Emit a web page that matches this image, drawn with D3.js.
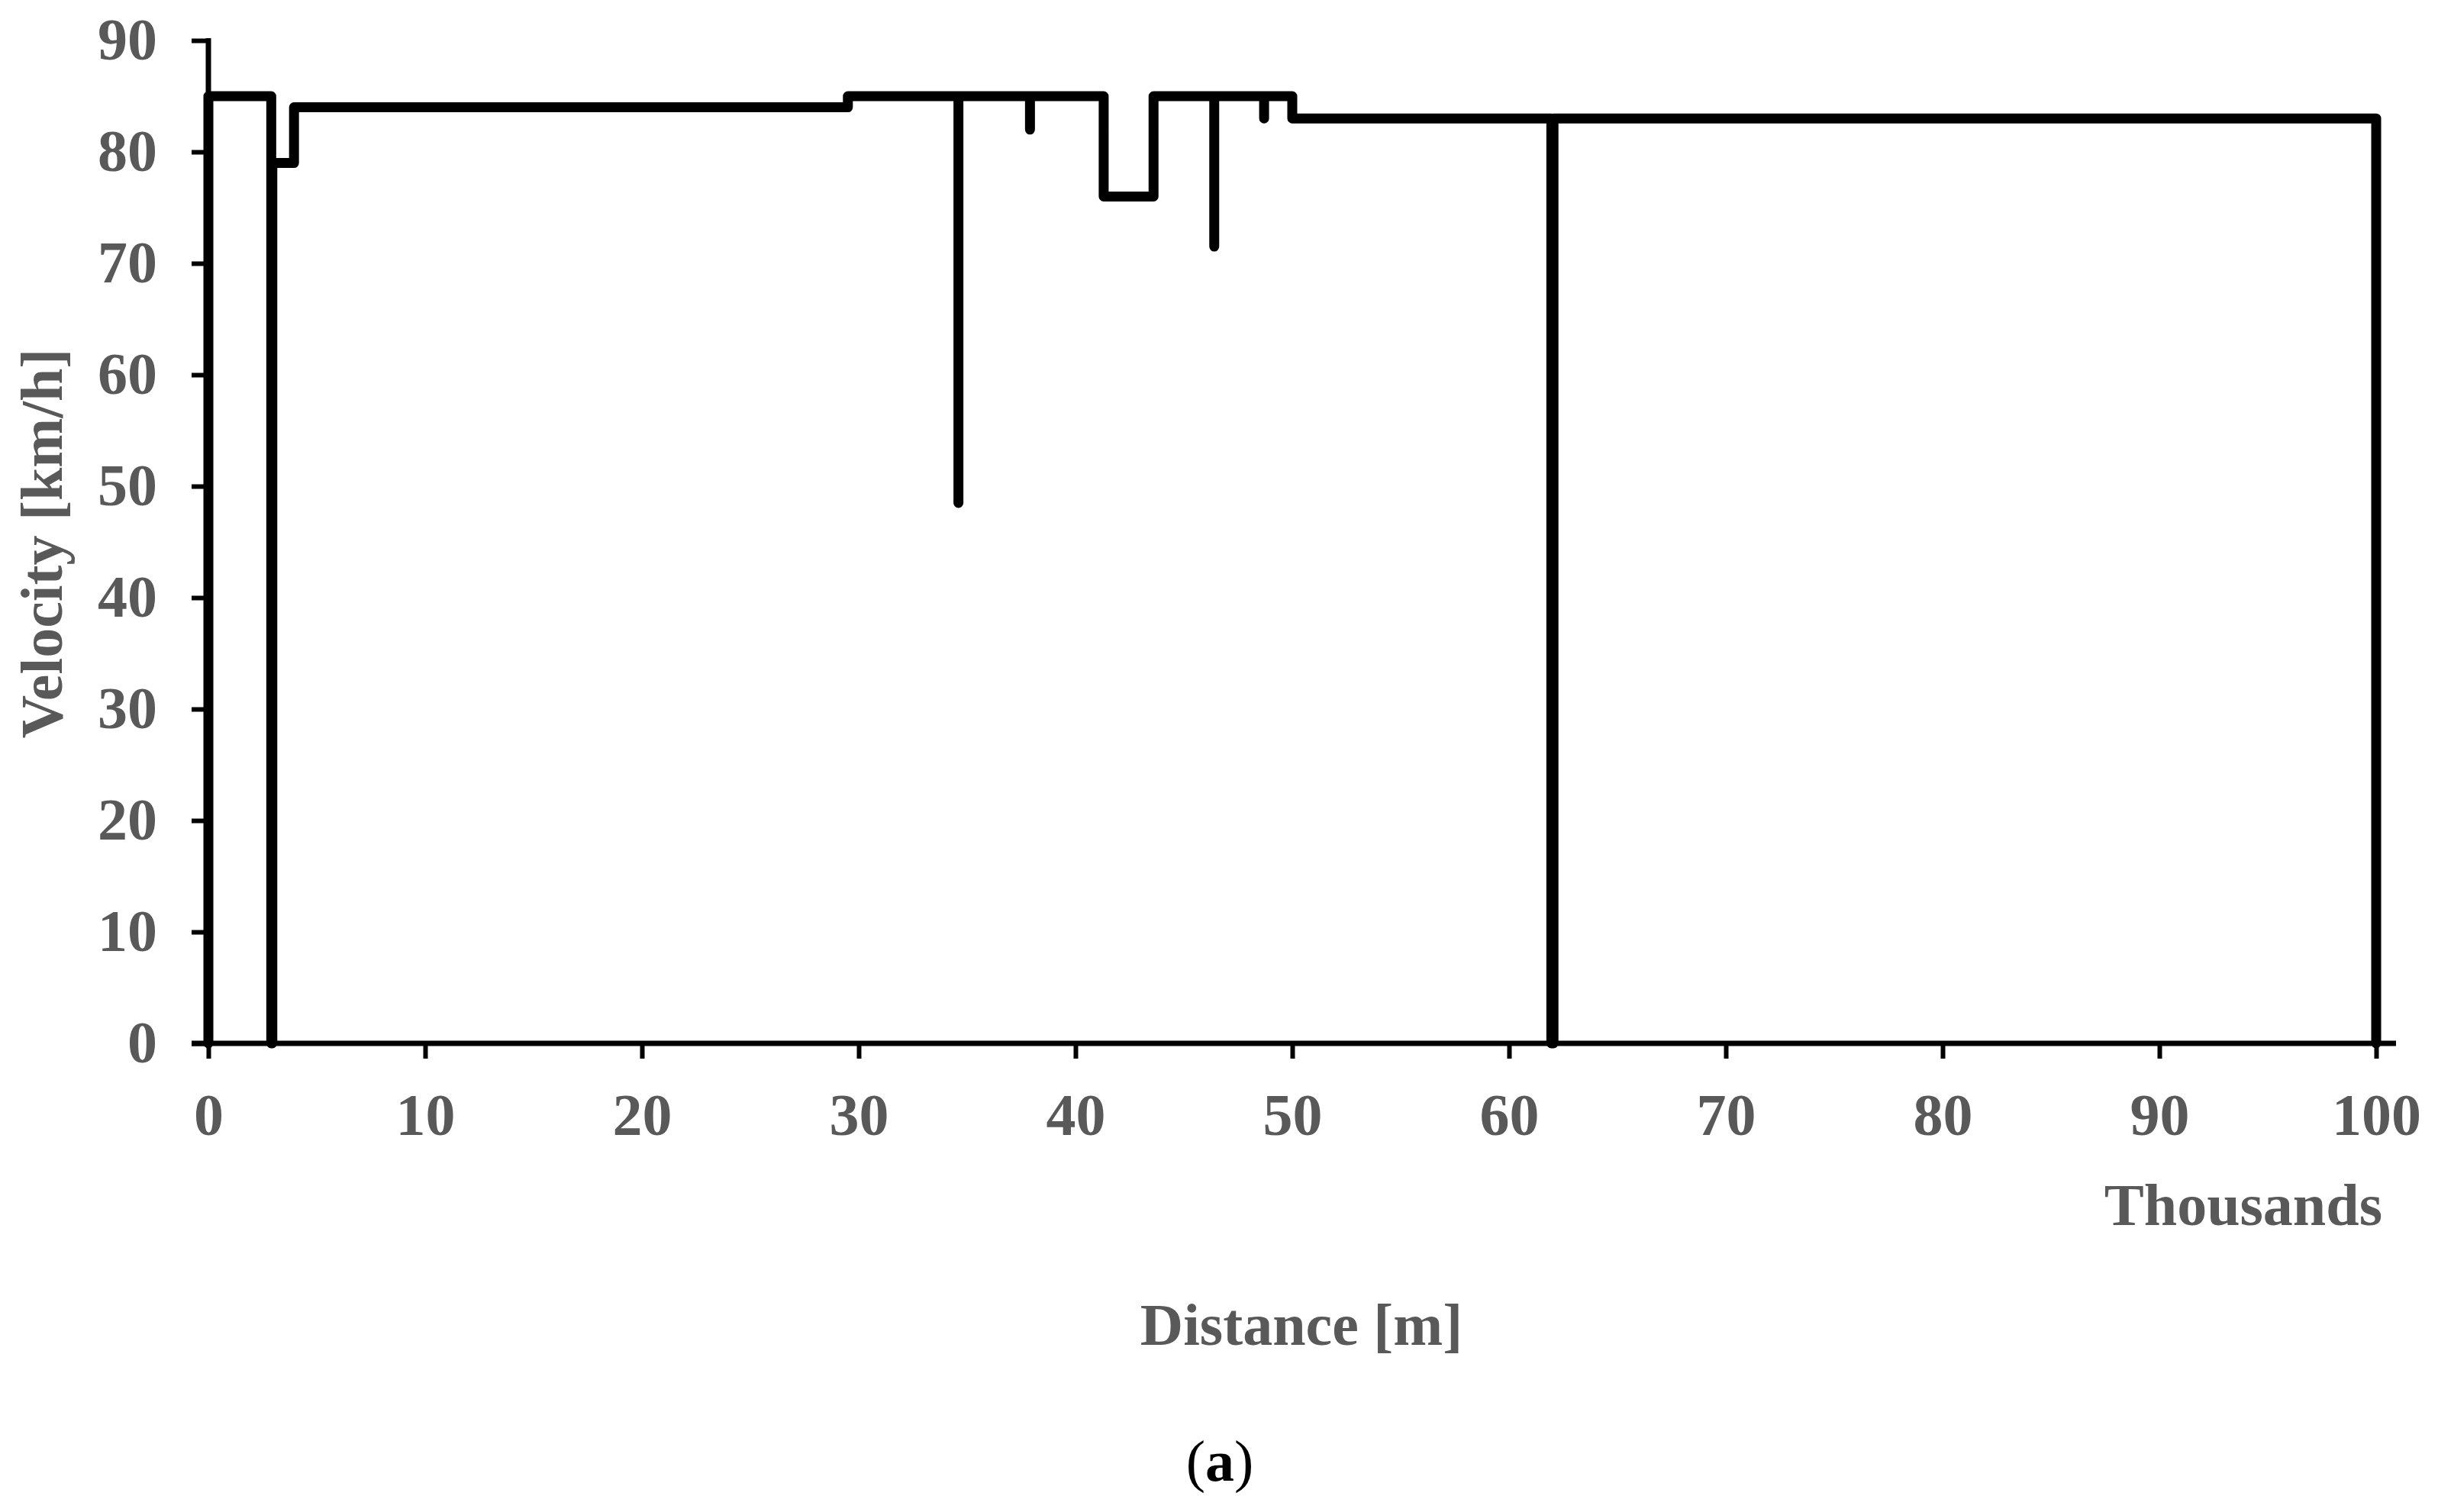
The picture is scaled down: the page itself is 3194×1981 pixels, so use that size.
<!DOCTYPE html>
<html>
<head>
<meta charset="utf-8">
<script src="https://cdn.jsdelivr.net/npm/d3@7/dist/d3.min.js"></script>
<style>
  html, body { margin: 0; padding: 0; background: #fff; }
  svg { display: block; }
</style>
</head>
<body>
<script>
// Step profile vertices: distance in thousands of metres, velocity in km/h
const distanceK = [0, 0, 2.9, 2.9, 2.95, 2.95, 3.95, 3.95, 29.5, 29.5, 34.6, 34.6, 34.6,
  37.9, 37.9, 37.9, 41.3, 41.3, 43.6, 43.6, 46.4, 46.4, 46.4, 48.7, 48.7, 48.7,
  50.0, 50.0, 61.95, 61.95, 62.05, 62.05, 100.0, 100.0];
const velocityKmh = [0, 85, 85, 0, 0, 79, 79, 84, 84, 85, 85, 48.5, 85,
  85, 82, 85, 85, 76, 76, 85, 85, 71.5, 85, 85, 83, 85,
  85, 83, 83, 0, 0, 83, 83, 0];
const xTickValues = [0, 10, 20, 30, 40, 50, 60, 70, 80, 90, 100];
const yTickValues = [0, 10, 20, 30, 40, 50, 60, 70, 80, 90];
const xAxisTitle = "Distance [m]";
const xAxisUnit = "Thousands";
const yAxisTitle = "Velocity [km/h]";
const panelLabel = "a";

const W = 3194, H = 1981;
const font = "'Liberation Serif', 'Times New Roman', serif";
const grey = "#595959";

const svg = d3.select("body").append("svg").attr("width", W).attr("height", H);

const x = d3.scaleLinear().domain([0, 100]).range([273, 3113]);
const y = d3.scaleLinear().domain([0, 90]).range([1367, 53]);

// X axis
const xAxis = d3.axisBottom(x).tickValues(xTickValues).tickSize(20).tickPadding(45).tickSizeOuter(0);
const gx = svg.append("g").attr("transform", `translate(0,${y(0)})`).call(xAxis);
gx.select(".domain").remove();
gx.append("line").attr("x1", x(0) - 22).attr("x2", x(100) + 26).attr("y1", 0).attr("y2", 0)
  .attr("stroke", "#000").attr("stroke-width", 7);
gx.selectAll(".tick line").attr("stroke", "#000").attr("stroke-width", 6);
gx.selectAll(".tick text").attr("fill", grey).attr("font-family", font)
  .attr("font-weight", "bold").attr("font-size", 78);

// Y axis
const yAxis = d3.axisLeft(y).tickValues(yTickValues).tickSize(22).tickPadding(45).tickSizeOuter(0);
const gy = svg.append("g").attr("transform", `translate(${x(0)},0)`).call(yAxis);
gy.select(".domain").remove();
gy.append("line").attr("x1", 0).attr("x2", 0).attr("y1", y(90) - 3).attr("y2", y(0))
  .attr("stroke", "#000").attr("stroke-width", 7);
gy.selectAll(".tick line").attr("stroke", "#000").attr("stroke-width", 6);
gy.selectAll(".tick text").attr("fill", grey).attr("font-family", font)
  .attr("font-weight", "bold").attr("font-size", 78);

// Data line
const pts = distanceK.map((d, i) => [d, velocityKmh[i]]);
const line = d3.line().x(d => x(d[0])).y(d => y(d[1]));
svg.append("path").attr("d", line(pts)).attr("fill", "none").attr("stroke", "#000")
  .attr("stroke-width", 13).attr("stroke-linejoin", "round").attr("stroke-linecap", "round");

// Titles
svg.append("text").attr("x", 3121).attr("y", 1605).attr("text-anchor", "end")
  .attr("font-family", font).attr("font-weight", "bold").attr("font-size", 78)
  .attr("fill", grey).text(xAxisUnit);
svg.append("text").attr("x", 1705).attr("y", 1762).attr("text-anchor", "middle")
  .attr("font-family", font).attr("font-weight", "bold").attr("font-size", 78)
  .attr("fill", grey).text(xAxisTitle);
svg.append("text").attr("transform", `translate(81,712) rotate(-90)`).attr("text-anchor", "middle")
  .attr("font-family", font).attr("font-weight", "bold").attr("font-size", 78)
  .attr("fill", grey).text(yAxisTitle);

const lab = svg.append("text").attr("x", 1598).attr("y", 1940).attr("text-anchor", "middle")
  .attr("font-family", font).attr("font-size", 76).attr("fill", "#000");
lab.append("tspan").text("(");
lab.append("tspan").attr("font-weight", "bold").text(panelLabel);
lab.append("tspan").text(")");
</script>
</body>
</html>
